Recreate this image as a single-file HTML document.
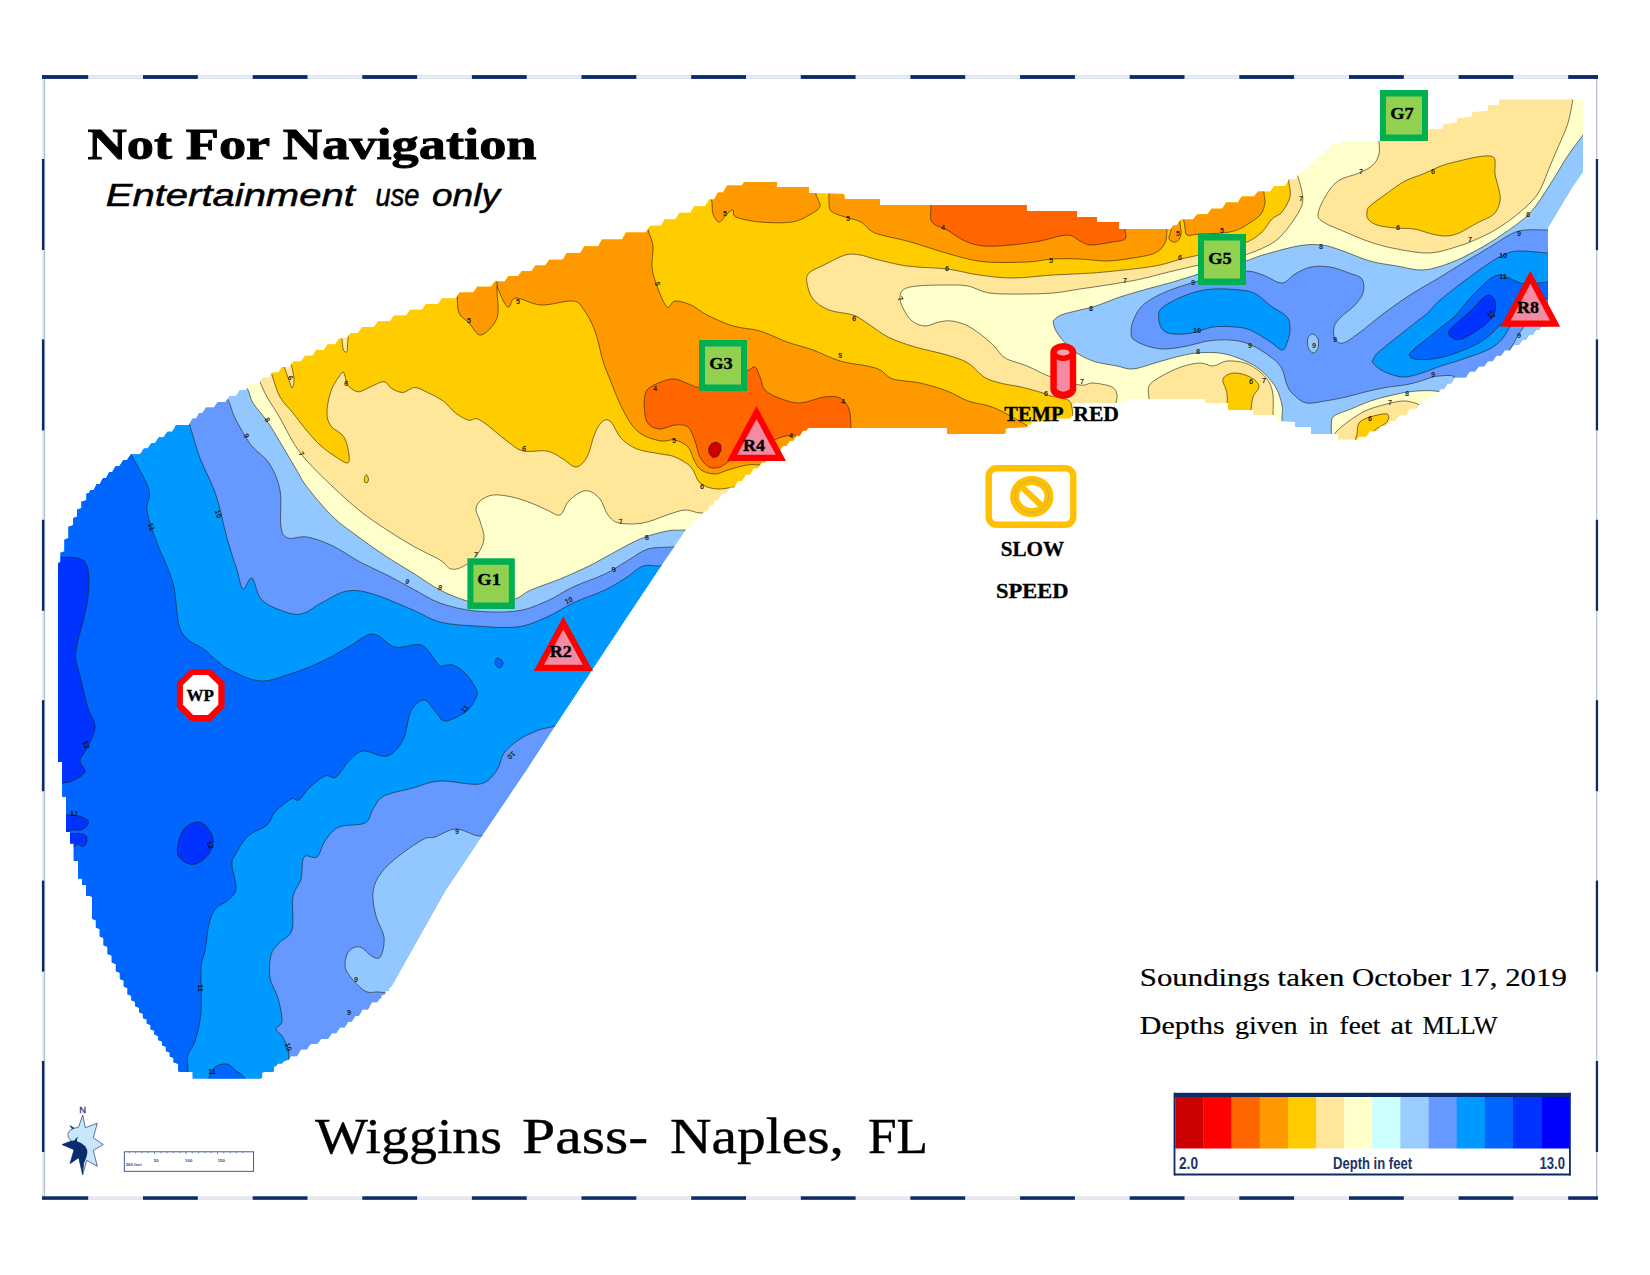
<!DOCTYPE html>
<html><head><meta charset="utf-8"><title>Wiggins Pass- Naples, FL</title>
<style>
html,body{margin:0;padding:0;background:#fff;}
body{width:1650px;height:1275px;position:relative;overflow:hidden;font-family:"Liberation Sans",sans-serif;}
svg text{white-space:pre;}
</style></head><body>
<svg width="1650" height="1275" viewBox="0 0 1650 1275" style="position:absolute;left:0;top:0">
<defs><clipPath id="mc"><path d="M192.7 1078.4L192.7 1072L181 1072L178.2 1071.2L178.2 1063.8L175.5 1063L173.6 1062.2L173.6 1058.1L169.8 1056.6L169.8 1052.4L165.9 1050.9L165.9 1046.8L164 1046L162.1 1045.2L162.1 1041.4L158.2 1039.9L158.2 1036.1L154.4 1034.6L154.4 1030.8L152.5 1030L150.6 1029.2L150.6 1025.1L146.8 1023.6L146.8 1019.4L142.9 1017.9L142.9 1013.8L141 1013L139.1 1012.2L139.1 1007.8L135.2 1006.2L135.2 1001.8L131.4 1000.2L131.4 995.8L129.5 995L127.6 994.2L127.6 988.1L123.8 986.6L123.8 980.4L119.9 978.9L119.9 972.8L118 972L115.9 971.2L115.9 964.1L111.8 962.6L111.8 955.4L107.6 953.9L107.6 946.8L105.5 946L103.6 945.2L103.6 937.9L99.8 936.4L99.8 929.1L95.9 927.6L95.9 920.2L94 919.5L92 918.8L92 896.8L90 896L86 896L86 885L82 885L82 878.6L78 878.6L78 861L73.8 861L73.8 843.5L70 843.5L70 832L66 832L66 797L62.2 797L62.2 762L58.2 762L58.2 563L60.6 562.2L60.6 552.8L63 552L64.5 551.2L64.5 539.8L66 539L68.5 538.2L68.5 526.8L71 526L73 525.2L73 518.2L77 516.8L77 509.8L79 509L81.5 508.2L81.5 501.8L86.5 500.2L86.5 493.8L89 493L90.6 490L93.7 490L96.8 484L99.9 484L101.5 481L103.1 478L106.2 478L109.3 472L112.4 472L114 469L115.9 466L119.6 466L123.4 460L127.1 460L129 457L131 454.2L140 454.2L142 451.5L143.9 448.6L147.6 448.6L151.4 442.9L155.1 442.9L157 440L159 437.2L163.5 437.2L167.5 431.8L172 431.8L174 429L176 425L189 425L191 421L192.6 418.4L195.9 418.4L199.1 413.1L202.4 413.1L204 410.5L206 407.6L213.8 407.6L217.8 401.9L225.5 401.9L227.5 399L229.5 396L235.8 396L239.8 390L246 390L248 387L250 383.5L259 383.5L261 380L263 377.5L268.5 377.5L272.5 372.5L278 372.5L280 370L282 367.1L289.4 367.1L293.4 361.4L300.9 361.4L304.9 355.7L312.3 355.7L316.3 350L323.7 350L327.7 344.3L335.1 344.3L339.1 338.6L346.6 338.6L350.6 332.9L358 332.9L360 330L362 327.1L374 327.1L378 321.3L390 321.3L394 315.5L406 315.5L410 309.7L422 309.7L426 303.9L438 303.9L440 301L442 298.2L455.7 298.2L459.7 292.5L473.3 292.5L477.3 286.8L491 286.8L493 284L495 281.4L504.5 281.4L508.5 276.1L518 276.1L522 270.9L531.5 270.9L535.5 265.6L545 265.6L547 263L549 259.7L562.7 259.7L566.7 253L580.3 253L584.3 246.3L598 246.3L600 243L602 239.5L622 239.5L626 232.5L646 232.5L648 229L650 225.8L660.8 225.8L664.8 219.2L675.5 219.2L679.5 212.8L690.2 212.8L694.2 206.2L705 206.2L707 203L709 199.5L714 199.5L718 192.5L723 192.5L725 189L727 185.5L742 185.5L744 182L777 182L777 187L809 187L809 193L844 194L845 199L880 199L880 205L1027 205L1027 211L1077 211L1077 217L1097 217L1097 222L1119 222L1119 229L1171 229L1173 225.5L1177 225.5L1179 222L1181 219.5L1193 219.5L1195 217L1197 214.2L1207.5 214.2L1211.5 208.8L1222 208.8L1224 206L1226 202.5L1238 202.5L1240 199L1242 196.5L1254 196.5L1256 194L1258 191.5L1270 191.5L1272 189L1274 186L1285 186L1287 183L1289 179L1296 179L1298 175L1299.6 172.3L1302.8 172.3L1305.9 167L1309.1 167L1312.2 161.7L1315.4 161.7L1317 159L1318.6 156L1321.9 156L1325.1 150L1328.4 150L1330 147L1332 144L1339 144L1341 141L1428 141L1428 129L1441 129L1443 128.2L1443 124.8L1445 124L1455 123L1457 122.2L1457 118.8L1459 118L1470 117L1472 116.2L1472 112.8L1474 112L1486 111L1488 110.2L1488 105.8L1490 105L1497 105L1499 104.2L1499 100.2L1501 99.5L1583 99.5L1583 172L1572 188L1548 228L1548 327L1541 327L1539.3 329.5L1536 329.5L1532.7 334.5L1529.3 334.5L1526 339.5L1522.7 339.5L1521 342L1519 344.8L1514 344.8L1510 350.2L1505 350.2L1503 353L1501 355.8L1496.5 355.8L1492.5 361.2L1488 361.2L1486 364L1484 366.5L1479 366.5L1475 371.5L1470 371.5L1468 374L1466 377.5L1455 377.5L1453 381L1451.2 383.8L1447.8 383.8L1444.2 389.2L1440.8 389.2L1439 392L1437 395.2L1431 395.2L1427 401.8L1421 401.8L1419 405L1417 408.4L1410 408.4L1406 415.3L1399 415.3L1397 418.7L1395 421.1L1390 421.1L1386 426.1L1381 426.1L1379 428.5L1377 431.3L1370 431.3L1366 436.8L1359 436.8L1357 439.6L1338 439.6L1338 434L1311 434L1311 427L1295 427L1295 422L1277 421L1275 415L1253 415L1253 410L1228 410L1228 403L1205 403L1205 399L1128 399L1126 401L1122 401L1120 403L1075 403L1073.5 403.8L1073.5 415.2L1072 416L1070 418.5L1056 418.5L1054 421L1032 422L1030.8 424.5L1028.2 424.5L1027 427L1008 428L1005.5 428.8L1005.5 433.2L1003 434L947 434L947 428L808 428L806.4 430.5L803.1 430.5L799.9 435.5L796.6 435.5L795 438L793.2 440.7L789.8 440.7L786.2 446.1L782.8 446.1L779.2 451.5L775.8 451.5L772.2 456.9L768.8 456.9L765.2 462.3L761.8 462.3L760 465L758 468.2L754 468.2L750 474.6L746 474.6L742 481L738 481L734 487.4L730 487.4L726 493.8L722 493.8L720 497L718.5 499.8L715.6 499.8L712.7 505.5L709.8 505.5L706.9 511.2L704 511.2L701 516.8L698.1 516.8L695.2 522.5L692.3 522.5L689.4 528.2L686.5 528.2L685 531L659 569L627 617L592 670L555 726L526.5 770L478.5 841L445.3 890.6L413.5 947L391 987L389.1 987.6L389.1 990.3L385.2 991.5L385.2 994.3L381.3 995.5L381.3 998.2L379.4 998.8L377.4 1002.3L372 1002.3L368 1009.5L362.6 1009.5L360.6 1013L358.8 1015.9L355.3 1015.9L351.8 1021.8L348.3 1021.8L346.5 1024.7L344.5 1027.5L340.2 1027.5L336.2 1033.2L332 1033.2L330 1036L328 1039L321 1039L319 1042L317 1044L311 1044L309 1046L307 1049.5L301 1049.5L299 1053L297 1056.2L291 1056.2L289 1059.5L284 1061L282 1063.5L278 1063.5L276 1066L274 1066.8L274 1071.2L272 1072L264 1072L262.1 1072.8L262.1 1077.7L260.2 1078.4Z"/></clipPath></defs>
<g clip-path="url(#mc)">
<rect x="40" y="80" width="1570" height="1020" fill="#ffffcc"/>
<g stroke="#1c1608" stroke-opacity="0.6" stroke-width="0.95" stroke-linejoin="round">
<path d="M240 378C241.3 380 245.8 385.8 248 390C250.2 394.2 249.8 397.8 253 403C256.2 408.2 262.5 414.5 267 421C271.5 427.5 275.2 434 280 442C284.8 450 291.5 461.5 296 469C300.5 476.5 300.8 479 307 487C313.2 495 324.2 508.5 333 517C341.8 525.5 351 531.3 360 538C369 544.7 378.2 551.2 387 557C395.8 562.8 404.2 567.5 413 573C421.8 578.5 431 585.3 440 590C449 594.7 458.7 598.5 467 601C475.3 603.5 482 605.3 490 605C498 604.7 508.2 601.5 515 599C521.8 596.5 523.5 593.3 531 590C538.5 586.7 550.3 583 560 579C569.7 575 580.2 570.3 589 566C597.8 561.7 604.5 557.5 613 553C621.5 548.5 631 542.7 640 539C649 535.3 659.5 532.5 667 531C674.5 529.5 679.5 530.5 685 530C690.5 529.5 697.5 528.3 700 528L700 1100L30 1100L30 380Z" fill="#92c8ff"/>
<path d="M222 392C223.2 393.7 226.8 397.7 229 402C231.2 406.3 231.3 410.8 235 418C238.7 425.2 245.3 437.5 251 445C256.7 452.5 264.2 455.5 269 463C273.8 470.5 278 479.3 280 490C282 500.7 279.7 519 281 527C282.3 535 283.7 536.3 288 538C292.3 539.7 299.5 535.7 307 537C314.5 538.3 324.2 541.8 333 546C341.8 550.2 351 557.2 360 562C369 566.8 378.2 570.5 387 575C395.8 579.5 404.2 584.3 413 589C421.8 593.7 429.7 599.3 440 603C450.3 606.7 462.2 609.7 475 611C487.8 612.3 505 612.7 517 611C529 609.3 537.7 605 547 601C556.3 597 563.3 591.5 573 587C582.7 582.5 596 578.3 605 574C614 569.7 619.8 565.2 627 561C634.2 556.8 640.5 551.3 648 549C655.5 546.7 664.7 547.7 672 547C679.3 546.3 688.7 545.3 692 545L692 1100L30 1100L30 395Z" fill="#6699ff"/>
<path d="M497 828C494.2 829.3 486.8 835.8 480 836C473.2 836.2 463.5 828.8 456 829C448.5 829.2 440.3 835.3 435 837C429.7 838.7 429.8 836 424 839C418.2 842 407.2 849.3 400 855C392.8 860.7 385.5 866.8 381 873C376.5 879.2 373.8 884.8 373 892C372.2 899.2 374.2 908.5 376 916C377.8 923.5 383.2 930.3 384 937C384.8 943.7 382.8 952.7 381 956C379.2 959.3 376.5 958.5 373 957C369.5 955.5 364 948 360 947C356 946 351.5 948.2 349 951C346.5 953.8 345 960 345 964C345 968 345.7 970.5 349 975C352.3 979.5 360 988.2 365 991C370 993.8 374.2 991.5 379 992C383.8 992.5 391.5 993.7 394 994L430 1000L520 860Z" fill="#92c8ff"/>
<path d="M183 413C184 414.7 186.2 415.5 189 423C191.8 430.5 195.5 446 200 458C204.5 470 211.5 481.7 216 495C220.5 508.3 223.5 525.5 227 538C230.5 550.5 234.3 561.5 237 570C239.7 578.5 240.5 587.7 243 589C245.5 590.3 249 576.3 252 578C255 579.7 256.3 593.7 261 599C265.7 604.3 273.3 607.5 280 610C286.7 612.5 293.8 615.3 301 614C308.2 612.7 315.3 605.8 323 602C330.7 598.2 338.7 592.3 347 591C355.3 589.7 362 590.8 373 594C384 597.2 401.8 605.3 413 610C424.2 614.7 429.7 619.3 440 622C450.3 624.7 462.2 625.2 475 626C487.8 626.8 505 628.5 517 627C529 625.5 537.7 621 547 617C556.3 613 563.3 607.5 573 603C582.7 598.5 596 594.3 605 590C614 585.7 620.7 581 627 577C633.3 573 637.7 567.8 643 566C648.3 564.2 654.2 566.3 659 566C663.8 565.7 669.8 564.3 672 564L680 570L640 625L605 678L570 730L562 724C560.3 724.5 555.8 726 552 727C548.2 728 544.3 728 539 730C533.7 732 525.8 735.2 520 739C514.2 742.8 507.8 747.8 504 753C500.2 758.2 501 764.8 497 770C493 775.2 489.5 782.2 480 784C470.5 785.8 451.2 780.3 440 781C428.8 781.7 422.3 785.5 413 788C403.7 790.5 390.7 792.5 384 796C377.3 799.5 376.2 804.5 373 809C369.8 813.5 370.7 820 365 823C359.3 826 345.7 824 339 827C332.3 830 328.7 836 325 841C321.3 846 320.5 854.3 317 857C313.5 859.7 306.7 853.3 304 857C301.3 860.7 302.8 872.3 301 879C299.2 885.7 294.5 888.5 293 897C291.5 905.5 294.3 922.3 292 930C289.7 937.7 282.5 938.8 279 943C275.5 947.2 272.5 949.2 271 955C269.5 960.8 268.8 970.8 270 978C271.2 985.2 276 990.8 278 998C280 1005.2 282.3 1015.8 282 1021C281.7 1026.2 276 1026.5 276 1029C276 1031.5 280 1032.8 282 1036C284 1039.2 286.8 1044 288 1048C289.2 1052 288.5 1056 289 1060C289.5 1064 290.7 1070 291 1072L291 1100L30 1100L30 415Z" fill="#0099ff"/>
<path d="M127 448C128 449.7 129.3 451 133 458C136.7 465 146.7 481.2 149 490C151.3 498.8 145.7 502.2 147 511C148.3 519.8 152.7 531 157 543C161.3 555 169 568.3 173 583C177 597.7 175.7 619.8 181 631C186.3 642.2 199.2 645.2 205 650C210.8 654.8 211.5 656.5 216 660C220.5 663.5 224.5 667.5 232 671C239.5 674.5 250.8 680.7 261 681C271.2 681.3 282.7 676.3 293 673C303.3 669.7 313.5 665.5 323 661C332.5 656.5 341.7 650.5 350 646C358.3 641.5 365.5 633.8 373 634C380.5 634.2 387 645.2 395 647C403 648.8 414.3 642.8 421 645C427.7 647.2 431.8 656.5 435 660C438.2 663.5 437 665.2 440 666C443 666.8 448.5 663.5 453 665C457.5 666.5 463.2 671 467 675C470.8 679 474.3 685.7 476 689C477.7 692.3 477.7 692.3 477 695C476.3 697.7 474.2 702 472 705C469.8 708 468.5 710.3 464 713C459.5 715.7 449.8 721.3 445 721C440.2 720.7 438.5 714.5 435 711C431.5 707.5 428 700 424 700C420 700 414.5 704.3 411 711C407.5 717.7 407 732.5 403 740C399 747.5 393.7 754.2 387 756C380.3 757.8 369.3 750.2 363 751C356.7 751.8 353.5 756.7 349 761C344.5 765.3 340 774.5 336 777C332 779.5 329.5 774.2 325 776C320.5 777.8 313.3 784 309 788C304.7 792 302 798.2 299 800C296 801.8 295 797 291 799C287 801 279 807.7 275 812C271 816.3 271.5 821 267 825C262.5 829 253.3 831 248 836C242.7 841 237.7 850.2 235 855C232.3 859.8 231.8 859.3 232 865C232.2 870.7 236.8 883 236 889C235.2 895 230.3 897.8 227 901C223.7 904.2 219 904.2 216 908C213 911.8 210.8 916.8 209 924C207.2 931.2 206.3 943.7 205 951C203.7 958.3 201.7 957.8 201 968C200.3 978.2 202 999.8 201 1012C200 1024.2 197.2 1033.8 195 1041C192.8 1048.2 189.2 1049.8 188 1055C186.8 1060.2 188 1067 188 1072C188 1077 188 1082.8 188 1085L30 1100L30 450Z" fill="#0066ff"/>
<path d="M209 1082C209 1081.3 208 1080.5 209 1078C210 1075.5 212 1069.3 215 1067C218 1064.7 223.7 1063.5 227 1064C230.3 1064.5 232.2 1067.8 235 1070C237.8 1072.2 242.2 1074.7 244 1077C245.8 1079.3 245.7 1082.8 246 1084Z" fill="#0066ff"/>
<path d="M497 658C498.3 657.7 502.5 660.3 503 662C503.5 663.7 501.3 667.7 500 668C498.7 668.3 495.5 665.7 495 664C494.5 662.3 495.7 658.3 497 658Z" fill="#0066ff"/>
<path d="M50 556C51.3 556.2 52.2 556 58 557C63.8 558 80 555.3 85 562C90 568.7 89.3 583.2 88 597C86.7 610.8 79 634.5 77 645C75 655.5 75.5 654.8 76 660C76.5 665.2 78 668 80 676C82 684 85.5 699.5 88 708C90.5 716.5 95.2 720.3 95 727C94.8 733.7 89.5 742.3 87 748C84.5 753.7 80.3 757 80 761C79.7 765 86.3 768.7 85 772C83.7 775.3 75.7 779.2 72 781C68.3 782.8 66.7 782.5 63 783C59.3 783.5 52.2 783.8 50 784Z" fill="#0033ff"/>
<path d="M60 815C62.5 815 70.4 814.5 75 815.3C79.6 816.1 85.7 818.1 87.6 820C89.5 821.9 87.7 824.9 86.4 826.6C85.1 828.3 82.3 829.5 80 830C77.7 830.5 74.9 829.4 72.6 829.7C70.3 830 68.1 831.6 66 832C63.9 832.4 61 832 60 832Z" fill="#0033ff"/>
<path d="M66 834C67.9 833.9 74.4 833.3 77.6 833.5C80.8 833.7 83.4 834.1 85 835C86.6 835.9 86.9 837.5 87 839C87.1 840.5 86.6 842.7 85.8 844C85 845.3 83.3 846.6 82 846.6C80.7 846.6 79.4 844 78 844C76.6 844 75.8 846.3 73.8 846.6C71.8 846.9 67.3 846.1 66 846Z" fill="#0033ff"/>
<path d="M197 822C200.5 821.7 203.3 823.3 206 826C208.7 828.7 212.2 834 213 838C213.8 842 212.7 846.3 211 850C209.3 853.7 206.2 857.6 203 860C199.8 862.4 195.5 864.5 192 864.5C188.5 864.5 184.4 861.9 182 860C179.6 858.1 178 856.3 177.5 853C177 849.7 177.8 844.2 179 840C180.2 835.8 182 831 185 828C188 825 193.5 822.3 197 822Z" fill="#0033ff"/>
<path d="M1053 321C1054.3 320 1056.5 316.8 1061 315C1065.5 313.2 1074.2 311.5 1080 310C1085.8 308.5 1089.3 308.2 1096 306C1102.7 303.8 1111.5 299.8 1120 297C1128.5 294.2 1138.2 291.5 1147 289C1155.8 286.5 1164.3 284.5 1173 282C1181.7 279.5 1190.8 276.3 1199 274C1207.2 271.7 1214.2 270.2 1222 268C1229.8 265.8 1239.2 263.2 1246 261C1252.8 258.8 1254.3 257.5 1263 255C1271.7 252.5 1288.2 247.7 1298 246C1307.8 244.3 1314.5 244.2 1322 245C1329.5 245.8 1335 248.3 1343 251C1351 253.7 1361 258.5 1370 261C1379 263.5 1388.2 264.5 1397 266C1405.8 267.5 1414.2 270.5 1423 270C1431.8 269.5 1441 266.3 1450 263C1459 259.7 1468.2 254.8 1477 250C1485.8 245.2 1494.2 240.2 1503 234C1511.8 227.8 1522 221.5 1530 213C1538 204.5 1544.8 192.3 1551 183C1557.2 173.7 1561.7 165 1567 157C1572.3 149 1578.2 141.5 1583 135C1587.8 128.5 1593.8 120.8 1596 118L1620 118L1620 460L1447 460L1447 393C1444.7 392.6 1437.4 391.2 1433 390.8C1428.6 390.4 1424.8 390.6 1420.6 390.8C1416.4 391 1412.7 391.3 1408 392C1403.3 392.7 1398.7 393.6 1392.7 395C1386.7 396.4 1378.8 398.3 1371.8 400.6C1364.8 402.9 1357.3 406.4 1351 409C1344.7 411.6 1337.3 413.5 1334 416C1330.7 418.5 1331.8 421.2 1331.4 424C1331 426.8 1331.4 429 1331.4 432.7C1331.4 436.4 1331.4 443.8 1331.4 446L1282 446L1282 430C1282 427.8 1282 421.2 1282 417C1282 412.8 1283.2 410.2 1282 405C1280.8 399.8 1279 392.2 1275 386C1271 379.8 1264.2 372.7 1258 368C1251.8 363.3 1244.5 360.5 1238 358C1231.5 355.5 1225.8 353.8 1219 353C1212.2 352.2 1204.2 352.3 1197 353C1189.8 353.7 1183 355.3 1176 357C1169 358.7 1162.2 361 1155 363C1147.8 365 1139.3 368.5 1133 369C1126.7 369.5 1123.2 367.2 1117 366C1110.8 364.8 1102.2 363.8 1096 362C1089.8 360.2 1084.8 357.8 1080 355C1075.2 352.2 1071 349 1067 345C1063 341 1058.3 335 1056 331C1053.7 327 1053.5 322.7 1053 321Z" fill="#92c8ff"/>
<path d="M1131 331C1131.3 329.3 1131.3 325 1133 321C1134.7 317 1137.3 311 1141 307C1144.7 303 1149.7 300 1155 297C1160.3 294 1166.3 291.5 1173 289C1179.7 286.5 1186.8 284.3 1195 282C1203.2 279.7 1213.5 276.8 1222 275C1230.5 273.2 1239.2 271 1246 271C1252.8 271 1257 273 1263 275C1269 277 1276.7 283.2 1282 283C1287.3 282.8 1290.2 276.7 1295 274C1299.8 271.3 1305.2 268.2 1311 267C1316.8 265.8 1323.7 266 1330 267C1336.3 268 1343.7 271 1349 273C1354.3 275 1359.7 275.7 1362 279C1364.3 282.3 1364.3 288.5 1363 293C1361.7 297.5 1357.7 302 1354 306C1350.3 310 1344.3 313.5 1341 317C1337.7 320.5 1335 323.3 1334 327C1333 330.7 1333.5 336.3 1335 339C1336.5 341.7 1339 344 1343 343C1347 342 1352.3 337.8 1359 333C1365.7 328.2 1374.5 320.3 1383 314C1391.5 307.7 1401 300.8 1410 295C1419 289.2 1428.2 284.3 1437 279C1445.8 273.7 1454.2 268.3 1463 263C1471.8 257.7 1482 251.8 1490 247C1498 242.2 1505.2 236.8 1511 234C1516.8 231.2 1518.8 230.7 1525 230C1531.2 229.3 1541.8 230 1548 230C1554.2 230 1559.7 230 1562 230L1562 345L1464 397L1460 384C1458.8 382.7 1456 377.3 1452.7 376C1449.4 374.7 1443.3 375.8 1440 376C1436.7 376.2 1436.2 376.2 1433 377C1429.8 377.8 1424.9 379.7 1420.6 381C1416.3 382.3 1412.8 383.5 1407 384.6C1401.2 385.7 1393 386.3 1386 387.5C1379 388.7 1372 390.3 1365 392C1358 393.7 1350.7 396 1344 397.5C1337.3 399 1331.3 400.1 1325 401C1318.7 401.9 1311.3 404.2 1306 403C1300.7 401.8 1296.2 397 1293 394C1289.8 391 1289 389.5 1287 385C1285 380.5 1284.2 372 1281 367C1277.8 362 1273.3 358.8 1268 355C1262.7 351.2 1255.3 346.5 1249 344C1242.7 341.5 1236.8 340.5 1230 340C1223.2 339.5 1215.2 340 1208 341C1200.8 342 1194.2 344.7 1187 346C1179.8 347.3 1171.7 349 1165 349C1158.3 349 1152.3 347.7 1147 346C1141.7 344.3 1135.7 341.5 1133 339C1130.3 336.5 1131.3 332.3 1131 331Z" fill="#6699ff"/>
<path d="M1526 322C1525.5 323 1524.3 325.8 1523 328C1521.7 330.2 1519.5 332.5 1518 335C1516.5 337.5 1515.3 340.7 1514 343C1512.7 345.3 1511.3 346.8 1510 349C1508.7 351.2 1506.7 354.8 1506 356L1520 360L1565 335L1565 322Z" fill="#92c8ff"/>
<path d="M1313 334C1314.7 334.2 1317.2 336.7 1318 339C1318.8 341.3 1318.8 345.7 1318 348C1317.2 350.3 1314.7 353.2 1313 353C1311.3 352.8 1308.8 349.5 1308 347C1307.2 344.5 1307.2 340.2 1308 338C1308.8 335.8 1311.3 333.8 1313 334Z" fill="#92c8ff"/>
<path d="M1159 321C1158.5 317.7 1157.7 313.3 1160 310C1162.3 306.7 1167.7 303.8 1173 301C1178.3 298.2 1185.3 295 1192 293C1198.7 291 1205 289.5 1213 289C1221 288.5 1232.8 289.2 1240 290C1247.2 290.8 1250.8 291.3 1256 294C1261.2 296.7 1265.8 302.2 1271 306C1276.2 309.8 1283.8 313 1287 317C1290.2 321 1290 325.7 1290 330C1290 334.3 1288.3 339.7 1287 343C1285.7 346.3 1285 350.3 1282 350C1279 349.7 1274.3 344.3 1269 341C1263.7 337.7 1255.7 332.3 1250 330C1244.3 327.7 1241.2 327.5 1235 327C1228.8 326.5 1220.2 326 1213 327C1205.8 328 1198.7 331.8 1192 333C1185.3 334.2 1177.8 334.5 1173 334C1168.2 333.5 1165.3 332.2 1163 330C1160.7 327.8 1159.5 324.3 1159 321Z" fill="#0099ff"/>
<path d="M1372 362C1372.7 360.8 1373.7 357.3 1376 354.6C1378.3 351.9 1381.8 349.3 1385.8 346C1389.8 342.7 1395.1 338.7 1399.7 335C1404.3 331.3 1408.9 327.7 1413.6 324C1418.2 320.3 1423.4 316.8 1427.6 313C1431.8 309.2 1433.1 306.2 1439 301C1444.9 295.8 1455.3 287.8 1463 282C1470.7 276.2 1478.3 270.5 1485 266C1491.7 261.5 1497.3 257.5 1503 255C1508.7 252.5 1511.5 251.3 1519 251C1526.5 250.7 1540.8 252.7 1548 253C1555.2 253.3 1559.7 253 1562 253L1562 310L1520 312C1518.3 314.4 1512.8 322.4 1510 326.7C1507.2 331 1505.6 334.8 1503 338C1500.4 341.2 1497.8 343.7 1494.5 346C1491.2 348.3 1486.8 350.3 1483 352C1479.2 353.7 1476.6 354.4 1472 356C1467.4 357.6 1460.6 360 1455.5 361.6C1450.4 363.2 1446.2 364.2 1441.5 365.8C1436.8 367.4 1432.2 369.4 1427.6 371C1422.9 372.6 1417.8 374.5 1413.6 375.5C1409.4 376.5 1406.4 377.2 1402.5 377C1398.6 376.8 1394 375.4 1390 374C1386 372.6 1381.8 370.5 1378.8 368.5C1375.8 366.5 1373.1 363.1 1372 362Z" fill="#0099ff"/>
<path d="M1409 355C1409.8 354 1410.8 351.8 1414 349C1417.2 346.2 1423.4 341.7 1428 338C1432.6 334.3 1436.9 330.7 1441.5 327C1446.1 323.3 1450.6 320.6 1455.5 315.6C1460.4 310.6 1465.2 303.1 1471 297C1476.8 290.9 1485 282.7 1490 279C1495 275.3 1497.5 275 1501 275C1504.5 275 1507 277.5 1511 279C1515 280.5 1518.8 283.5 1525 284C1531.2 284.5 1541.8 282.3 1548 282C1554.2 281.7 1559.7 282 1562 282L1562 298C1558.3 298.3 1547 298 1540 300C1533 302 1525.8 306.3 1520 310C1514.2 313.7 1508.8 319 1505 322C1501.2 325 1499.5 325.8 1497 328C1494.5 330.2 1492.8 332.7 1490 335C1487.2 337.3 1483.9 339.9 1480.5 342C1477.1 344.1 1473.6 345.7 1469.4 347.6C1465.2 349.5 1460.2 351.6 1455.5 353.2C1450.8 354.8 1446.2 356.3 1441.5 357.4C1436.8 358.4 1432.2 359.3 1427.6 359.5C1422.9 359.7 1416.7 359.6 1413.6 358.8C1410.5 358.1 1409.8 355.6 1409 355Z" fill="#0066ff"/>
<path d="M1448.5 334C1447.8 332.1 1449.2 330.7 1451.5 328C1453.8 325.3 1458.8 321.3 1462.5 318C1466.2 314.7 1470.5 311 1473.6 308C1476.7 305 1478.4 302.2 1481 300C1483.6 297.8 1486.7 294.8 1489 295C1491.3 295.2 1494.1 298 1495 301C1495.9 304 1495.8 309.4 1494.5 313C1493.2 316.6 1490.5 319.5 1487.5 322.5C1484.5 325.5 1480.3 328.4 1476.4 331C1472.5 333.6 1467.5 336.6 1464 338C1460.5 339.4 1458.1 340.2 1455.5 339.5C1452.9 338.8 1449.2 335.9 1448.5 334Z" fill="#0033ff"/>
<path d="M255 370C255.8 372 258 377.5 260 382C262 386.5 263.7 391 267 397C270.3 403 275.7 410.5 280 418C284.3 425.5 288.5 434.8 293 442C297.5 449.2 300.3 453.5 307 461C313.7 468.5 324.2 478.7 333 487C341.8 495.3 351 503.8 360 511C369 518.2 378.2 524.2 387 530C395.8 535.8 404.2 541 413 546C421.8 551 433.7 556.2 440 560C446.3 563.8 447 568 451 569C455 570 459.7 568.3 464 566C468.3 563.7 473.7 559.5 477 555C480.3 550.5 483.5 544.7 484 539C484.5 533.3 481.3 525.8 480 521C478.7 516.2 476 513.3 476 510C476 506.7 477.2 503.5 480 501C482.8 498.5 487.7 495.7 493 495C498.3 494.3 505.7 495.7 512 497C518.3 498.3 525.2 500.8 531 503C536.8 505.2 542.2 508 547 510C551.8 512 556.5 516.3 560 515C563.5 513.7 564.8 505.7 568 502C571.2 498.3 575.5 494.8 579 493C582.5 491.2 585.5 490 589 491C592.5 492 596.8 495 600 499C603.2 503 604.8 511 608 515C611.2 519 613.2 521.7 619 523C624.8 524.3 635 524.3 643 523C651 521.7 660 517.2 667 515C674 512.8 679.5 510.3 685 510C690.5 509.7 695.2 512.8 700 513C704.8 513.2 711.7 511.3 714 511L770 475L815 445L1010 445L1116 414C1116 412.2 1115.8 406.2 1116 403C1116.2 399.8 1117.7 397.7 1117 395C1116.3 392.3 1116 389 1112 387C1108 385 1098.3 383.3 1093 383C1087.7 382.7 1087 386 1080 385C1073 384 1059.8 380.2 1051 377C1042.2 373.8 1034.7 369.2 1027 366C1019.3 362.8 1010.3 361.2 1005 358C999.7 354.8 998.5 350.5 995 347C991.5 343.5 988.5 340.5 984 337C979.5 333.5 973.3 328.7 968 326C962.7 323.3 956.8 321.7 952 321C947.2 320.3 943.5 321.2 939 322C934.5 322.8 929.5 326.2 925 326C920.5 325.8 915.5 323.7 912 321C908.5 318.3 906 313.7 904 310C902 306.3 900.2 302.3 900 299C899.8 295.7 900.2 292.2 903 290C905.8 287.8 909.7 286.8 917 286C924.3 285.2 938.5 285 947 285C955.5 285 961 284.7 968 286C975 287.3 980.2 291.7 989 293C997.8 294.3 1010.3 294 1021 294C1031.7 294 1043.2 293.8 1053 293C1062.8 292.2 1071 290.3 1080 289C1089 287.7 1099.5 286.2 1107 285C1114.5 283.8 1119.3 283 1125 282C1130.7 281 1133 280.8 1141 279C1149 277.2 1163.3 273.3 1173 271C1182.7 268.7 1190.8 266.8 1199 265C1207.2 263.2 1214.3 261.7 1222 260C1229.7 258.3 1237.5 257.3 1245 255C1252.5 252.7 1261.2 249 1267 246C1272.8 243 1275.7 241.2 1280 237C1284.3 232.8 1289.3 226.3 1293 221C1296.7 215.7 1300.5 209.8 1302 205C1303.5 200.2 1302.7 196.7 1302 192C1301.3 187.3 1299.2 181.5 1298 177C1296.8 172.5 1295.5 167 1295 165L1295 90L245 90L245 370Z" fill="#ffe699"/>
<path d="M1379 128C1379 130.2 1379 136.7 1379 141C1379 145.3 1380 150 1379 154C1378 158 1376.3 161.8 1373 165C1369.7 168.2 1364.8 170.3 1359 173C1353.2 175.7 1343.7 177 1338 181C1332.3 185 1328.3 191.3 1325 197C1321.7 202.7 1318 210.7 1318 215C1318 219.3 1320.8 220.3 1325 223C1329.2 225.7 1335.5 227.8 1343 231C1350.5 234.2 1361 239 1370 242C1379 245 1387 247.2 1397 249C1407 250.8 1419.7 253.5 1430 253C1440.3 252.5 1451.2 248.3 1459 246C1466.8 243.7 1471 241.7 1477 239C1483 236.3 1488.8 233.7 1495 230C1501.2 226.3 1507.8 221.8 1514 217C1520.2 212.2 1527.5 205.8 1532 201C1536.5 196.2 1538 193.8 1541 188C1544 182.2 1547 173.2 1550 166C1553 158.8 1556 152.2 1559 145C1562 137.8 1565.7 130.7 1568 123C1570.3 115.3 1571.8 104.8 1573 99C1574.2 93.2 1574.7 89.8 1575 88L1379 88Z" fill="#ffe699"/>
<path d="M1149 412C1149 409.8 1149 403.3 1149 399C1149 394.7 1147.2 389.7 1149 386C1150.8 382.3 1154.7 380.2 1160 377C1165.3 373.8 1174.3 369.3 1181 367C1187.7 364.7 1194.7 363.2 1200 363C1205.3 362.8 1208.5 366.3 1213 366C1217.5 365.7 1221.7 361.5 1227 361C1232.3 360.5 1239.7 361.3 1245 363C1250.3 364.7 1255 367.8 1259 371C1263 374.2 1266.7 378 1269 382C1271.3 386 1272.3 389.5 1273 395C1273.7 400.5 1273 409.5 1273 415C1273 420.5 1273 425.8 1273 428L1149 428Z" fill="#ffe699"/>
<path d="M1332 437C1333 435.8 1335.2 432.7 1338 430C1340.8 427.3 1344.5 424.2 1349 421C1353.5 417.8 1359.3 413.7 1365 411C1370.7 408.3 1376.8 406.7 1383 405C1389.2 403.3 1396.7 401.3 1402 401C1407.3 400.7 1411.2 401.8 1415 403C1418.8 404.2 1423.3 407.2 1425 408L1400 450L1332 450Z" fill="#ffe699"/>
<path d="M268 363C268.7 365 270 369.3 272 375C274 380.7 276.5 390.7 280 397C283.5 403.3 288.5 407.3 293 413C297.5 418.7 302.5 425.7 307 431C311.5 436.3 315.7 441 320 445C324.3 449 328.5 452 333 455C337.5 458 344.3 463 347 463C349.7 463 349.5 459.3 349 455C348.5 450.7 347 441.8 344 437C341 432.2 333.8 430 331 426C328.2 422 327 418.8 327 413C327 407.2 328.5 397.7 331 391C333.5 384.3 339.5 375.5 341.8 373C344.1 370.5 344.1 374.2 345 376C345.9 377.8 345.8 381.8 347 384C348.2 386.2 349.9 387.7 352 389C354.1 390.3 356.2 392.2 359.3 391.8C362.4 391.4 366.8 388.4 370.9 386.7C375 385 380.6 381.4 384 381.6C387.4 381.9 388.2 386.4 391.3 388.2C394.4 390 399 392.6 402.9 392.5C406.8 392.4 410.4 387.5 414.5 387.5C418.6 387.5 422.8 390.2 427.6 392.5C432.5 394.8 439 397.9 443.6 401.3C448.2 404.7 451.2 409.8 455.3 412.9C459.4 416 464.3 419 468.4 420.2C472.5 421.4 473.6 416.5 480 420C486.4 423.5 499.8 435.8 507 441C514.2 446.2 516.3 449.3 523 451C529.7 452.7 540.3 449.7 547 451C553.7 452.3 558.2 456.3 563 459C567.8 461.7 572 467.3 576 467C580 466.7 583.8 462.7 587 457C590.2 451.3 592.3 439 595 433C597.7 427 600.3 422.8 603 421C605.7 419.2 608 419.2 611 422C614 424.8 616.7 433.5 621 438C625.3 442.5 630.3 446.3 637 449C643.7 451.7 654.7 452.7 661 454C667.3 455.3 670 454.8 675 457C680 459.2 686.8 462.7 691 467C695.2 471.3 695.7 479.3 700 483C704.3 486.7 710.5 488.5 717 489C723.5 489.5 733.2 486.8 739 486C744.8 485.2 749.8 484.3 752 484L775 475L815 445L1010 445L1073 422C1072.8 419.7 1072.8 411.7 1072 408C1071.2 404.3 1071.5 402 1068 400C1064.5 398 1055.2 397.2 1051 396C1046.8 394.8 1048 394.5 1043 393C1038 391.5 1028.2 388.7 1021 387C1013.8 385.3 1006.2 384.7 1000 383C993.8 381.3 989.3 380.3 984 377C978.7 373.7 974.2 366.7 968 363C961.8 359.3 955.8 357.7 947 355C938.2 352.3 924.8 350 915 347C905.2 344 896 341 888 337C880 333 872.8 326.7 867 323C861.2 319.3 859.3 317.2 853 315C846.7 312.8 835.7 312.7 829 310C822.3 307.3 816.7 303.5 813 299C809.3 294.5 807.7 287.3 807 283C806.3 278.7 806.2 276 809 273C811.8 270 818 268 824 265C830 262 839 256.7 845 255C851 253.3 855 254.3 860 255C865 255.7 867.2 257.2 875 259C882.8 260.8 895 264.3 907 266C919 267.7 935 267.5 947 269C959 270.5 968 273.5 979 275C990 276.5 1000.7 278 1013 278C1025.3 278 1039.7 275.8 1053 275C1066.3 274.2 1079.7 274 1093 273C1106.3 272 1121.8 270.3 1133 269C1144.2 267.7 1152 266.7 1160 265C1168 263.3 1174.5 260.7 1181 259C1187.5 257.3 1192.2 256.7 1199 255C1205.8 253.3 1214.3 251 1222 249C1229.7 247 1238.5 245.7 1245 243C1251.5 240.3 1256.5 237 1261 233C1265.5 229 1268.5 222.5 1272 219C1275.5 215.5 1279 215.7 1282 212C1285 208.3 1288.8 201.8 1290 197C1291.2 192.2 1289.5 187.5 1289 183C1288.5 178.5 1287.3 172.2 1287 170L1287 90L260 90L260 363Z" fill="#ffcc00"/>
<path d="M366.5 474.5C366.9 474.6 368.4 478.2 368.5 479C368.6 479.8 367.9 482.2 367.5 482.5C367.1 482.8 364.8 482.5 364.5 482C364.2 481.5 364.3 478.2 364.5 477.5C364.7 476.8 366.1 474.4 366.5 474.5Z" fill="#ffcc00"/>
<path d="M1367 212C1367.3 209.8 1366.8 209 1370 206C1373.2 203 1380.2 198.2 1386 194C1391.8 189.8 1398.8 184.3 1405 181C1411.2 177.7 1417 176.5 1423 174C1429 171.5 1435 168.2 1441 166C1447 163.8 1453 162.5 1459 161C1465 159.5 1471.8 157.8 1477 157C1482.2 156.2 1487 155.5 1490 156C1493 156.5 1494.2 157 1495 160C1495.8 163 1494.3 169 1495 174C1495.7 179 1498.2 185.5 1499 190C1499.8 194.5 1500.8 197 1500 201C1499.2 205 1497.8 210.3 1494 214C1490.2 217.7 1482.8 219.8 1477 223C1471.2 226.2 1464.2 230.8 1459 233C1453.8 235.2 1450.5 235.8 1446 236C1441.5 236.2 1437.3 235.2 1432 234C1426.7 232.8 1420.2 230 1414 229C1407.8 228 1401.2 228.7 1395 228C1388.8 227.3 1381.5 226.5 1377 225C1372.5 223.5 1369.7 221.2 1368 219C1366.3 216.8 1366.7 214.2 1367 212Z" fill="#ffcc00"/>
<path d="M1227 420C1227 415.7 1227.7 400.8 1227 394C1226.3 387.2 1221.8 382.5 1223 379C1224.2 375.5 1229.5 373.3 1234 373C1238.5 372.7 1245.8 374.8 1250 377C1254.2 379.2 1258.5 382.7 1259 386C1259.5 389.3 1254.3 393 1253 397C1251.7 401 1251.3 406.2 1251 410C1250.7 413.8 1251 418.3 1251 420Z" fill="#ffcc00"/>
<path d="M1355 440C1355.3 439 1356.3 436.8 1357 434C1357.7 431.2 1356.8 425.8 1359 423C1361.2 420.2 1365.3 418.5 1370 417C1374.7 415.5 1384.2 413.2 1387 414C1389.8 414.8 1389 419.3 1387 422C1385 424.7 1378.2 427 1375 430C1371.8 433 1369.2 438.3 1368 440Z" fill="#ffcc00"/>
<path d="M284 366C284.3 367 285.2 369.7 286 372C286.8 374.3 288 377.3 289 380C290 382.7 291.2 387.8 292 388C292.8 388.2 293.8 383.7 294 381C294.2 378.3 293.5 374.8 293 372C292.5 369.2 291.3 365.3 291 364Z" fill="#ffe699"/>
<path d="M341.5 332C341.7 334.2 342.1 341.8 342.5 345C342.9 348.2 343.2 349.9 344 351C344.8 352.1 346.4 352.5 347 351.5C347.6 350.5 347.2 348.6 347.5 345C347.8 341.4 348.3 332.5 348.5 330Z" fill="#ffe699"/>
<path d="M495 274C495.3 276 495.5 281.3 497 286C498.5 290.7 502 298.5 504 302C506 305.5 507 307.7 509 307C511 306.3 510.7 298.3 516 298C521.3 297.7 531.5 304.5 541 305C550.5 305.5 565.8 300.2 573 301C580.2 301.8 580.3 305 584 310C587.7 315 591.8 322.5 595 331C598.2 339.5 600.3 352.5 603 361C605.7 369.5 608 374.5 611 382C614 389.5 617.5 398.8 621 406C624.5 413.2 628.3 420.2 632 425C635.7 429.8 638.2 432.3 643 435C647.8 437.7 655.7 440.2 661 441C666.3 441.8 670.5 439 675 440C679.5 441 684.8 443.7 688 447C691.2 450.3 691.8 456.2 694 460C696.2 463.8 697.5 467.7 701 470C704.5 472.3 710.5 474 715 474C719.5 474 722.7 471.5 728 470C733.3 468.5 741.7 465.8 747 465C752.3 464.2 755.8 464.8 760 465C764.2 465.2 770 465.8 772 466L815 445L1010 445L1029 434C1028.7 432.7 1028.3 428 1027 426C1025.7 424 1024.7 424.2 1021 422C1017.3 419.8 1010.3 415.7 1005 413C999.7 410.3 995.2 408 989 406C982.8 404 975 403.5 968 401C961 398.5 955 394 947 391C939 388 929 385 920 383C911 381 899.7 381.2 893 379C886.3 376.8 884.3 372.2 880 370C875.7 367.8 873.7 367.5 867 366C860.3 364.5 849 363.7 840 361C831 358.3 821.8 353.2 813 350C804.2 346.8 795.8 345.2 787 342C778.2 338.8 769 333.7 760 331C751 328.3 741.8 328.7 733 326C724.2 323.3 714 318.5 707 315C700 311.5 696.3 307.3 691 305C685.7 302.7 679 300.7 675 301C671 301.3 670 309.5 667 307C664 304.5 659.5 292.7 657 286C654.5 279.3 652.7 273.7 652 267C651.3 260.3 653.7 252.2 653 246C652.3 239.8 649.3 234.7 648 230C646.7 225.3 645.5 220 645 218L495 218Z" fill="#ff9900"/>
<path d="M455 286C455.3 287.7 456.3 291.5 457 296C457.7 300.5 457 308.5 459 313C461 317.5 465.3 319.3 469 323C472.7 326.7 476.3 335.8 481 335C485.7 334.2 494.3 325.3 497 318C499.7 310.7 497 297.7 497 291C497 284.3 497 280.2 497 278L455 270Z" fill="#ff9900"/>
<path d="M710 192C710.3 193.8 711.5 199.3 712 203C712.5 206.7 711.8 210.8 713 214C714.2 217.2 716.7 222 719 222C721.3 222 724.7 216 727 214C729.3 212 731.5 209.5 733 210C734.5 210.5 731.5 215 736 217C740.5 219 750.7 221.2 760 222C769.3 222.8 783.5 223.3 792 222C800.5 220.7 806.3 216.7 811 214C815.7 211.3 819.2 209.3 820 206C820.8 202.7 816.7 198.7 816 194C815.3 189.3 816 180.7 816 178L710 170Z" fill="#ff9900"/>
<path d="M829 188C829 189.8 828.7 195.2 829 199C829.3 202.8 828.3 208 831 211C833.7 214 840 215.2 845 217C850 218.8 856 219.3 861 222C866 224.7 867.3 229.8 875 233C882.7 236.2 897.3 238.3 907 241C916.7 243.7 924.2 246.3 933 249C941.8 251.7 951 254.8 960 257C969 259.2 975.8 261.2 987 262C998.2 262.8 1016 262.5 1027 262C1038 261.5 1044.2 259.5 1053 259C1061.8 258.5 1071 258.7 1080 259C1089 259.3 1098.2 261.2 1107 261C1115.8 260.8 1125 259.3 1133 258C1141 256.7 1149.7 255.5 1155 253C1160.3 250.5 1163 247 1165 243C1167 239 1166.7 233.2 1167 229C1167.3 224.8 1167 219.8 1167 218L829 180Z" fill="#ff9900"/>
<path d="M1171 222C1171 223.3 1171.3 227.2 1171 230C1170.7 232.8 1168.2 237 1169 239C1169.8 241 1174 242.7 1176 242C1178 241.3 1180.3 238.2 1181 235C1181.7 231.8 1180.2 226.5 1180 223C1179.8 219.5 1180 215.5 1180 214Z" fill="#ff9900"/>
<path d="M1183 216C1183.3 217.8 1184.3 223.8 1185 227C1185.7 230.2 1184.5 233.8 1187 235C1189.5 236.2 1194.2 234.3 1200 234C1205.8 233.7 1215.8 233.7 1222 233C1228.2 232.3 1232.2 231.8 1237 230C1241.8 228.2 1247 224.7 1251 222C1255 219.3 1258.7 217.2 1261 214C1263.3 210.8 1264.5 206.3 1265 203C1265.5 199.7 1264.2 197.3 1264 194C1263.8 190.7 1264 184.8 1264 183L1183 183Z" fill="#ff9900"/>
<path d="M644 403C644.5 400.8 644.2 393.5 647 390C649.8 386.5 656.3 383.8 661 382C665.7 380.2 670 378.5 675 379C680 379.5 686.8 383.7 691 385C695.2 386.3 694.3 387.8 700 387C705.7 386.2 717.2 382.7 725 380C732.8 377.3 742 373.2 747 371C752 368.8 752.8 366 755 367C757.2 368 758.3 373.2 760 377C761.7 380.8 761.8 386.5 765 390C768.2 393.5 773.2 395.8 779 398C784.8 400.2 792.5 403.2 800 403C807.5 402.8 817.3 397.8 824 397C830.7 396.2 835.8 396 840 398C844.2 400 847.2 404.2 849 409C850.8 413.8 850.7 421.5 851 427C851.3 432.5 851 439.5 851 442L805 442C803.7 441.2 799.2 438.2 797 437C794.8 435.8 795 434.8 792 435C789 435.2 784.3 436 779 438C773.7 440 767.7 443.5 760 447C752.3 450.5 739.7 455.7 733 459C726.3 462.3 724 465.7 720 467C716 468.3 712.3 468.7 709 467C705.7 465.3 702.3 461.3 700 457C697.7 452.7 697 446 695 441C693 436 691.3 429.7 688 427C684.7 424.3 679.8 424.7 675 425C670.2 425.3 663.7 429.5 659 429C654.3 428.5 649.5 426.3 647 422C644.5 417.7 644.5 406.2 644 403Z" fill="#ff6600"/>
<path d="M931 193C931 195 930.8 200.2 931 205C931.2 209.8 929.3 217.8 932 222C934.7 226.2 941.5 226.8 947 230C952.5 233.2 958.8 238.3 965 241C971.2 243.7 976.3 245.3 984 246C991.7 246.7 1001.7 245.8 1011 245C1020.3 244.2 1030.7 242.7 1040 241C1049.3 239.3 1060.3 235 1067 235C1073.7 235 1076 239.3 1080 241C1084 242.7 1085.7 244.8 1091 245C1096.3 245.2 1106.3 243 1112 242C1117.7 241 1122.8 241.2 1125 239C1127.2 236.8 1125 233 1125 229C1125 225 1125 217.3 1125 215L1125 193Z" fill="#ff6600"/>
<path d="M708.5 449C708.6 448.3 710.5 444.5 711 444C711.5 443.5 715.4 442 716 442C716.6 442 720.2 444 720.5 444.5C720.8 445 721.2 449.2 721 450C720.8 450.8 718.5 455.5 718 456C717.5 456.5 713.6 457.6 713 457.5C712.4 457.4 709.8 454.6 709.5 454C709.2 453.4 708.4 449.7 708.5 449Z" fill="#cc0000"/>
</g></g>
<g font-family="Liberation Sans, sans-serif" font-size="7.3" font-weight="bold" fill="#120e04" fill-opacity="0.9" text-anchor="middle">
<text x="246" y="438" transform="rotate(60 246 436)">9</text>
<text x="267" y="422" transform="rotate(60 267 420)">8</text>
<text x="301" y="456" transform="rotate(55 301 454)">7</text>
<text x="218" y="516" transform="rotate(70 218 514)">10</text>
<text x="151" y="529" transform="rotate(70 151 527)">11</text>
<text x="290" y="380" transform="rotate(60 290 378)">6</text>
<text x="346" y="386" transform="rotate(10 346 384)">6</text>
<text x="407" y="584" transform="rotate(20 407 582)">9</text>
<text x="440" y="590" transform="rotate(15 440 588)">8</text>
<text x="476" y="557" transform="rotate(0 476 555)">7</text>
<text x="647" y="540" transform="rotate(-15 647 538)">8</text>
<text x="614" y="572" transform="rotate(-20 614 570)">9</text>
<text x="569" y="603" transform="rotate(-25 569 601)">10</text>
<text x="621" y="524" transform="rotate(-10 621 522)">7</text>
<text x="465" y="711" transform="rotate(-50 465 709)">11</text>
<text x="524" y="451" transform="rotate(10 524 449)">6</text>
<text x="702" y="489" transform="rotate(0 702 487)">6</text>
<text x="674" y="443" transform="rotate(0 674 441)">5</text>
<text x="518" y="304" transform="rotate(0 518 302)">5</text>
<text x="469" y="323" transform="rotate(0 469 321)">5</text>
<text x="657" y="286" transform="rotate(80 657 284)">5</text>
<text x="725" y="216" transform="rotate(0 725 214)">5</text>
<text x="848" y="221" transform="rotate(0 848 219)">5</text>
<text x="854" y="321" transform="rotate(10 854 319)">6</text>
<text x="840" y="358" transform="rotate(10 840 356)">5</text>
<text x="655" y="391" transform="rotate(0 655 389)">4</text>
<text x="843" y="404" transform="rotate(0 843 402)">4</text>
<text x="791" y="438" transform="rotate(0 791 436)">4</text>
<text x="943" y="230" transform="rotate(0 943 228)">4</text>
<text x="1051" y="263" transform="rotate(0 1051 261)">5</text>
<text x="947" y="271" transform="rotate(0 947 269)">6</text>
<text x="1125" y="283" transform="rotate(0 1125 281)">7</text>
<text x="1091" y="311" transform="rotate(0 1091 309)">8</text>
<text x="1197" y="333" transform="rotate(0 1197 331)">10</text>
<text x="1250" y="348" transform="rotate(0 1250 346)">9</text>
<text x="1198" y="354" transform="rotate(0 1198 352)">8</text>
<text x="1180" y="260" transform="rotate(0 1180 258)">6</text>
<text x="1178" y="236" transform="rotate(0 1178 234)">5</text>
<text x="1222" y="233" transform="rotate(0 1222 231)">5</text>
<text x="1193" y="285" transform="rotate(0 1193 283)">9</text>
<text x="86" y="747" transform="rotate(70 86 745)">12</text>
<text x="74" y="816" transform="rotate(0 74 814)">12</text>
<text x="210" y="847" transform="rotate(70 210 845)">12</text>
<text x="457" y="834" transform="rotate(0 457 832)">9</text>
<text x="200" y="990" transform="rotate(90 200 988)">11</text>
<text x="288" y="1049" transform="rotate(70 288 1047)">10</text>
<text x="356" y="982" transform="rotate(0 356 980)">9</text>
<text x="349" y="1015" transform="rotate(0 349 1013)">9</text>
<text x="212" y="1074" transform="rotate(0 212 1072)">11</text>
<text x="511" y="757" transform="rotate(140 511 755)">10</text>
<text x="1433" y="174" transform="rotate(0 1433 172)">6</text>
<text x="1398" y="230" transform="rotate(0 1398 228)">6</text>
<text x="1470" y="242" transform="rotate(0 1470 240)">7</text>
<text x="1361" y="174" transform="rotate(0 1361 172)">7</text>
<text x="1528" y="217" transform="rotate(0 1528 215)">8</text>
<text x="1519" y="236" transform="rotate(0 1519 234)">9</text>
<text x="1503" y="258" transform="rotate(0 1503 256)">10</text>
<text x="1503" y="279" transform="rotate(0 1503 277)">11</text>
<text x="1491" y="317" transform="rotate(50 1491 315)">12</text>
<text x="1519" y="338" transform="rotate(0 1519 336)">9</text>
<text x="1433" y="377" transform="rotate(0 1433 375)">9</text>
<text x="1407" y="396" transform="rotate(0 1407 394)">8</text>
<text x="1390" y="405" transform="rotate(0 1390 403)">7</text>
<text x="1370" y="421" transform="rotate(0 1370 419)">6</text>
<text x="1251" y="384" transform="rotate(0 1251 382)">6</text>
<text x="1264" y="383" transform="rotate(0 1264 381)">7</text>
<text x="1321" y="249" transform="rotate(0 1321 247)">8</text>
<text x="1301" y="201" transform="rotate(0 1301 199)">7</text>
<text x="1314" y="348" transform="rotate(0 1314 346)">9</text>
<text x="1335" y="342" transform="rotate(0 1335 340)">9</text>
<text x="1046" y="396" transform="rotate(0 1046 394)">6</text>
<text x="1082" y="384" transform="rotate(0 1082 382)">7</text>
<text x="900" y="301" transform="rotate(60 900 299)">7</text>
</g>
<rect x="467.4" y="558.3" width="47.4" height="50.7" fill="#00b050"/><rect x="473.4" y="564.8" width="35.4" height="37.7" fill="#92d050"/><text x="489.1" y="585" font-family="Liberation Serif, serif" font-weight="bold" font-size="17" text-anchor="middle" textLength="23.5" lengthAdjust="spacingAndGlyphs" stroke="#000" stroke-width="0.35">G1</text>
<rect x="699" y="340" width="48" height="51" fill="#00b050"/><rect x="705" y="346.5" width="36" height="38" fill="#92d050"/><text x="721" y="369.3" font-family="Liberation Serif, serif" font-weight="bold" font-size="17" text-anchor="middle" textLength="23.5" lengthAdjust="spacingAndGlyphs" stroke="#000" stroke-width="0.35">G3</text>
<rect x="1198" y="234" width="48" height="51" fill="#00b050"/><rect x="1204" y="240.5" width="36" height="38" fill="#92d050"/><text x="1220" y="263.6" font-family="Liberation Serif, serif" font-weight="bold" font-size="17" text-anchor="middle" textLength="23.5" lengthAdjust="spacingAndGlyphs" stroke="#000" stroke-width="0.35">G5</text>
<rect x="1380" y="90" width="48" height="51" fill="#00b050"/><rect x="1386" y="96.5" width="36" height="38" fill="#92d050"/><text x="1402" y="118.7" font-family="Liberation Serif, serif" font-weight="bold" font-size="17" text-anchor="middle" textLength="23.5" lengthAdjust="spacingAndGlyphs" stroke="#000" stroke-width="0.35">G7</text>
<polygon points="563.3,616.5 533.8,671 593,671" fill="#ff0000"/><polygon points="563.3,629.5 544,664.7 582.8,664.7" fill="#f48ba2"/><text x="560.8" y="657" font-family="Liberation Serif, serif" font-weight="bold" font-size="17" text-anchor="middle" textLength="22" lengthAdjust="spacingAndGlyphs" stroke="#000" stroke-width="0.35">R2</text>
<polygon points="756.5,406 727,461 786,461" fill="#ff0000"/><polygon points="756.5,419 737.2,454.7 775.8,454.7" fill="#f48ba2"/><text x="754" y="450.7" font-family="Liberation Serif, serif" font-weight="bold" font-size="17" text-anchor="middle" textLength="22" lengthAdjust="spacingAndGlyphs" stroke="#000" stroke-width="0.35">R4</text>
<polygon points="1530.4,270.8 1500.5,326.7 1560.2,326.7" fill="#ff0000"/><polygon points="1530.4,283.8 1510.7,320.4 1550,320.4" fill="#f48ba2"/><text x="1527.9" y="312.7" font-family="Liberation Serif, serif" font-weight="bold" font-size="17" text-anchor="middle" textLength="22" lengthAdjust="spacingAndGlyphs" stroke="#000" stroke-width="0.35">R8</text>
<polygon points="190.7,669 210.8,669 224.6,682.3 224.6,707.5 210.8,721 190.7,721 176.9,707.5 176.9,682.3" fill="#ff0000"/>
<polygon points="193.2,675 208,675 218.3,685 218.3,704.8 208,715 193.2,715 182.9,704.8 182.9,685" fill="#ffffff"/>
<text x="200.2" y="700.8" font-family="Liberation Serif, serif" font-weight="bold" font-size="17.5" text-anchor="middle" textLength="27.5" lengthAdjust="spacingAndGlyphs" stroke="#000" stroke-width="0.35">WP</text>
<path d="M1050.3 352.3 A12.95 9.3 0 0 1 1076.2 352.3 L1076.2 389 A12.95 10 0 0 1 1050.3 389 Z" fill="#ff0000"/>
<path d="M1056.8 359.5 Q1063.2 362.5 1069.8 359.5 L1069.8 389 Q1063.2 394.5 1056.8 389 Z" fill="#f48ba2"/>
<ellipse cx="1063.2" cy="352.4" rx="6.3" ry="3" fill="#f4a0b2"/>
<text x="1004.2" y="421" font-family="Liberation Serif, serif" font-weight="bold" font-size="20" textLength="59.4" lengthAdjust="spacingAndGlyphs" stroke="#000" stroke-width="0.3">TEMP</text>
<text x="1073.3" y="421" font-family="Liberation Serif, serif" font-weight="bold" font-size="20" textLength="45.7" lengthAdjust="spacingAndGlyphs" stroke="#000" stroke-width="0.3">RED</text>
<rect x="988.7" y="468.2" width="84.6" height="56.6" rx="8" ry="8" fill="none" stroke="#ffc000" stroke-width="6.4"/>
<ellipse cx="1031.8" cy="496.5" rx="17.2" ry="16.1" fill="none" stroke="#ffc000" stroke-width="9"/>
<line x1="1020.5" y1="485.8" x2="1043" y2="507" stroke="#ffc000" stroke-width="6.2"/>
<ellipse cx="1031.8" cy="496.5" rx="17" ry="15.9" fill="none" stroke="#8aa8a0" stroke-width="0.5"/>
<text x="1000.7" y="556" font-family="Liberation Serif, serif" font-weight="bold" font-size="20" textLength="63.5" lengthAdjust="spacingAndGlyphs" stroke="#000" stroke-width="0.3">SLOW</text>
<text x="996" y="598" font-family="Liberation Serif, serif" font-weight="bold" font-size="20" textLength="72.5" lengthAdjust="spacingAndGlyphs" stroke="#000" stroke-width="0.3">SPEED</text>
<text x="87.6" y="159.4" font-family="Liberation Serif, serif" font-weight="bold" font-size="45" textLength="449" lengthAdjust="spacingAndGlyphs" stroke="#000" stroke-width="0.9">Not For Navigation</text>
<text x="105.8" y="206.4" font-family="Liberation Sans, sans-serif" font-style="italic" font-size="31" stroke="#000" stroke-width="0.5" textLength="249" lengthAdjust="spacingAndGlyphs">Entertainment</text><text x="375.5" y="206.4" font-family="Liberation Sans, sans-serif" font-style="italic" font-size="31" stroke="#000" stroke-width="0.5" textLength="44" lengthAdjust="spacingAndGlyphs">use</text><text x="432" y="206.4" font-family="Liberation Sans, sans-serif" font-style="italic" font-size="31" stroke="#000" stroke-width="0.5" textLength="68" lengthAdjust="spacingAndGlyphs">only</text>
<text x="315.2" y="1153" font-family="Liberation Serif, serif" font-size="51.5" stroke="#000" stroke-width="0.4" textLength="186.8" lengthAdjust="spacingAndGlyphs">Wiggins</text><text x="522" y="1153" font-family="Liberation Serif, serif" font-size="51.5" stroke="#000" stroke-width="0.4" textLength="126" lengthAdjust="spacingAndGlyphs">Pass-</text><text x="670" y="1153" font-family="Liberation Serif, serif" font-size="51.5" stroke="#000" stroke-width="0.4" textLength="174" lengthAdjust="spacingAndGlyphs">Naples,</text><text x="868" y="1153" font-family="Liberation Serif, serif" font-size="51.5" stroke="#000" stroke-width="0.4" textLength="60" lengthAdjust="spacingAndGlyphs">FL</text>
<text x="1139.8" y="986.4" font-family="Liberation Serif, serif" font-size="26" textLength="427" lengthAdjust="spacingAndGlyphs" stroke="#000" stroke-width="0.2">Soundings taken October 17, 2019</text>
<text x="1139.8" y="1033.5" font-family="Liberation Serif, serif" font-size="26" stroke="#000" stroke-width="0.2" textLength="84.9" lengthAdjust="spacingAndGlyphs">Depths</text><text x="1234.9" y="1033.5" font-family="Liberation Serif, serif" font-size="26" stroke="#000" stroke-width="0.2" textLength="62.6" lengthAdjust="spacingAndGlyphs">given</text><text x="1309" y="1033.5" font-family="Liberation Serif, serif" font-size="26" stroke="#000" stroke-width="0.2" textLength="19" lengthAdjust="spacingAndGlyphs">in</text><text x="1339.6" y="1033.5" font-family="Liberation Serif, serif" font-size="26" stroke="#000" stroke-width="0.2" textLength="40.8" lengthAdjust="spacingAndGlyphs">feet</text><text x="1390.5" y="1033.5" font-family="Liberation Serif, serif" font-size="26" stroke="#000" stroke-width="0.2" textLength="21.9" lengthAdjust="spacingAndGlyphs">at</text><text x="1422.5" y="1033.5" font-family="Liberation Serif, serif" font-size="26" stroke="#000" stroke-width="0.2" textLength="75.1" lengthAdjust="spacingAndGlyphs">MLLW</text>
<rect x="1174" y="1093" width="396.5" height="82.5" fill="#fff"/>
<rect x="1175.3" y="1097" width="28.4" height="51.5" fill="#cc0000"/>
<rect x="1203.4" y="1097" width="28.4" height="51.5" fill="#ff0000"/>
<rect x="1231.6" y="1097" width="28.4" height="51.5" fill="#ff6600"/>
<rect x="1259.7" y="1097" width="28.4" height="51.5" fill="#ff9900"/>
<rect x="1287.9" y="1097" width="28.4" height="51.5" fill="#ffcc00"/>
<rect x="1316" y="1097" width="28.4" height="51.5" fill="#ffe699"/>
<rect x="1344.2" y="1097" width="28.4" height="51.5" fill="#ffffcc"/>
<rect x="1372.3" y="1097" width="28.4" height="51.5" fill="#ccffff"/>
<rect x="1400.4" y="1097" width="28.4" height="51.5" fill="#99ccff"/>
<rect x="1428.6" y="1097" width="28.4" height="51.5" fill="#6699ff"/>
<rect x="1456.7" y="1097" width="28.4" height="51.5" fill="#0099ff"/>
<rect x="1484.9" y="1097" width="28.4" height="51.5" fill="#0066ff"/>
<rect x="1513" y="1097" width="28.4" height="51.5" fill="#0033ff"/>
<rect x="1541.2" y="1097" width="28.4" height="51.5" fill="#0000ff"/>
<rect x="1174" y="1092.8" width="396.5" height="4.2" fill="#0b2a66"/>
<rect x="1174" y="1173.5" width="396.5" height="2" fill="#0b2a66"/>
<rect x="1173.6" y="1092.8" width="1.8" height="82.7" fill="#0b2a66"/>
<rect x="1569" y="1092.8" width="1.8" height="82.7" fill="#0b2a66"/>
<text x="1179" y="1168.5" font-family="Liberation Sans, sans-serif" font-weight="bold" font-size="16" fill="#1a3468" textLength="19" lengthAdjust="spacingAndGlyphs">2.0</text>
<text x="1333" y="1168.5" font-family="Liberation Sans, sans-serif" font-weight="bold" font-size="16" fill="#1a3468" textLength="79" lengthAdjust="spacingAndGlyphs">Depth in feet</text>
<text x="1539.5" y="1168.5" font-family="Liberation Sans, sans-serif" font-weight="bold" font-size="16" fill="#1a3468" textLength="25.5" lengthAdjust="spacingAndGlyphs">13.0</text>
<polygon points="82.7,1115 85.3,1127.7 97.3,1123.3 93.3,1137.7 103.3,1144.6 93.3,1150.3 97.3,1166.3 86.7,1160.3 82.7,1175 78.7,1157.7 70,1163.7 74,1149.7 62,1144.6 71.3,1141 68.3,1137.5 68,1133.5 70,1130.3 72.5,1129 70,1125.7 74.5,1128.2 78.7,1127" fill="#c9e7fb" stroke="#1f3a7a" stroke-width="0.7" stroke-linejoin="round"/>
<path d="M62 1144.6 L71.3 1141 L74.7 1140.3 Q75.5 1138 78.2 1136.8 Q76.3 1139.5 76.9 1141.3 Q81 1142.5 85.3 1146.3 Q88 1150 87.3 1153.5 Q86.5 1158 84 1163 L82.7 1175 L78.7 1157.7 L70 1163.7 L74 1149.7 Z" fill="#0b2d6e"/>
<path d="M70 1125.7 L74.5 1128.2 L72.5 1129.3 Z" fill="#0b2d6e"/>
<text x="82.8" y="1113" font-family="Liberation Sans, sans-serif" font-size="9.5" fill="#1f3a7a" stroke="#1f3a7a" stroke-width="0.3" text-anchor="middle">N</text>
<rect x="124.3" y="1151.8" width="129.3" height="19.5" fill="#fff" stroke="#2d4a8a" stroke-width="0.9"/>
<path d="M129.3 1152 v1.3M135.6 1152 v1.3M141.9 1152 v1.3M148.2 1152 v1.3M154.5 1152 v2.2M160.8 1152 v1.3M167.1 1152 v1.3M173.4 1152 v1.3M179.7 1152 v1.3M186 1152 v2.2M192.3 1152 v1.3M198.6 1152 v1.3M204.9 1152 v1.3M211.2 1152 v1.3M217.5 1152 v2.2M223.8 1152 v1.3M230.1 1152 v1.3M236.4 1152 v1.3M242.7 1152 v1.3" stroke="#2d4a8a" stroke-width="0.6" fill="none"/>
<text x="156.2" y="1162.3" font-family="Liberation Sans, sans-serif" font-size="4.3" fill="#2d4a8a" text-anchor="middle" font-weight="bold">50</text>
<text x="188.7" y="1162.3" font-family="Liberation Sans, sans-serif" font-size="4.3" fill="#2d4a8a" text-anchor="middle" font-weight="bold">100</text>
<text x="221.3" y="1162.3" font-family="Liberation Sans, sans-serif" font-size="4.3" fill="#2d4a8a" text-anchor="middle" font-weight="bold">150</text>
<text x="133.7" y="1166.3" font-family="Liberation Sans, sans-serif" font-size="4.3" fill="#2d4a8a" text-anchor="middle" font-weight="bold">200 feet</text>
<g>
<rect x="42" y="75.3" width="1556" height="3.6" fill="#d6dcea"/>
<rect x="43" y="76.5" width="1554" height="1.2" fill="#f4f6fa"/>
<rect x="42" y="1196.6" width="1556" height="3.2" fill="#d6dcea"/>
<rect x="43" y="1197.7" width="1554" height="1.0" fill="#f4f6fa"/>
<rect x="42" y="75.3" width="3" height="1124.5" fill="#e3e8f1"/>
<rect x="44.1" y="75.3" width="1" height="1124.5" fill="#aab6cf"/>
<rect x="1596.2" y="75.3" width="1.1" height="1124.5" fill="#aab6cf"/>
<rect x="42" y="75.1" width="46.2" height="3.8" fill="#0b2a66"/>
<rect x="42" y="1196.3" width="46.2" height="3.5" fill="#0b2a66"/>
<rect x="143" y="75.1" width="54.8" height="3.8" fill="#0b2a66"/>
<rect x="143" y="1196.3" width="54.8" height="3.5" fill="#0b2a66"/>
<rect x="252.7" y="75.1" width="54.8" height="3.8" fill="#0b2a66"/>
<rect x="252.7" y="1196.3" width="54.8" height="3.5" fill="#0b2a66"/>
<rect x="362.3" y="75.1" width="54.8" height="3.8" fill="#0b2a66"/>
<rect x="362.3" y="1196.3" width="54.8" height="3.5" fill="#0b2a66"/>
<rect x="471.9" y="75.1" width="54.8" height="3.8" fill="#0b2a66"/>
<rect x="471.9" y="1196.3" width="54.8" height="3.5" fill="#0b2a66"/>
<rect x="581.5" y="75.1" width="54.8" height="3.8" fill="#0b2a66"/>
<rect x="581.5" y="1196.3" width="54.8" height="3.5" fill="#0b2a66"/>
<rect x="691.2" y="75.1" width="54.8" height="3.8" fill="#0b2a66"/>
<rect x="691.2" y="1196.3" width="54.8" height="3.5" fill="#0b2a66"/>
<rect x="800.8" y="75.1" width="54.8" height="3.8" fill="#0b2a66"/>
<rect x="800.8" y="1196.3" width="54.8" height="3.5" fill="#0b2a66"/>
<rect x="910.4" y="75.1" width="54.8" height="3.8" fill="#0b2a66"/>
<rect x="910.4" y="1196.3" width="54.8" height="3.5" fill="#0b2a66"/>
<rect x="1020.1" y="75.1" width="54.8" height="3.8" fill="#0b2a66"/>
<rect x="1020.1" y="1196.3" width="54.8" height="3.5" fill="#0b2a66"/>
<rect x="1129.7" y="75.1" width="54.8" height="3.8" fill="#0b2a66"/>
<rect x="1129.7" y="1196.3" width="54.8" height="3.5" fill="#0b2a66"/>
<rect x="1239.3" y="75.1" width="54.8" height="3.8" fill="#0b2a66"/>
<rect x="1239.3" y="1196.3" width="54.8" height="3.5" fill="#0b2a66"/>
<rect x="1349" y="75.1" width="54.8" height="3.8" fill="#0b2a66"/>
<rect x="1349" y="1196.3" width="54.8" height="3.5" fill="#0b2a66"/>
<rect x="1458.6" y="75.1" width="54.8" height="3.8" fill="#0b2a66"/>
<rect x="1458.6" y="1196.3" width="54.8" height="3.5" fill="#0b2a66"/>
<rect x="1568.2" y="75.1" width="29.8" height="3.8" fill="#0b2a66"/>
<rect x="1568.2" y="1196.3" width="29.8" height="3.5" fill="#0b2a66"/>
<rect x="41.9" y="159" width="2.4" height="91" fill="#0b2a66"/>
<rect x="1595.8" y="159" width="2.3" height="91" fill="#0b2a66"/>
<rect x="41.9" y="339.4" width="2.4" height="91" fill="#0b2a66"/>
<rect x="1595.8" y="339.4" width="2.3" height="91" fill="#0b2a66"/>
<rect x="41.9" y="519.8" width="2.4" height="91" fill="#0b2a66"/>
<rect x="1595.8" y="519.8" width="2.3" height="91" fill="#0b2a66"/>
<rect x="41.9" y="700.2" width="2.4" height="91" fill="#0b2a66"/>
<rect x="1595.8" y="700.2" width="2.3" height="91" fill="#0b2a66"/>
<rect x="41.9" y="880.6" width="2.4" height="91" fill="#0b2a66"/>
<rect x="1595.8" y="880.6" width="2.3" height="91" fill="#0b2a66"/>
<rect x="41.9" y="1061" width="2.4" height="91" fill="#0b2a66"/>
<rect x="1595.8" y="1061" width="2.3" height="91" fill="#0b2a66"/>
</g>
</svg>
</body></html>
